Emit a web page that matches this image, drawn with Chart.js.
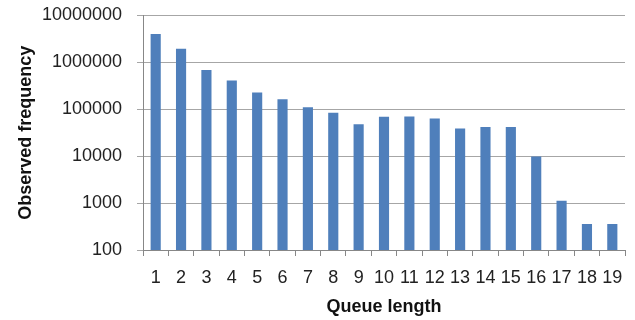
<!DOCTYPE html>
<html>
<head>
<meta charset="utf-8">
<script src="https://cdn.jsdelivr.net/npm/chart.js"></script>
<style>
  html, body { margin: 0; padding: 0; background: #fff; }
  #wrap { width: 635px; height: 320px; }
</style>
</head>
<body>
<div id="wrap"><canvas id="chart" width="635" height="320"></canvas></div>
<script>
// Queue length categories and observed frequency (log scale)
const queueLengths = ['1', '2', '3', '4', '5', '6', '7', '8', '9', '10',
                      '11', '12', '13', '14', '15', '16', '17', '18', '19'];
const frequencies = [4050000, 1960000, 690000, 410000, 227000, 164000, 110000, 84600, 48000, 69500,
                     70500, 64000, 39000, 41700, 41700, 9900, 1120, 360, 360];
const yTicks = [100, 1000, 10000, 100000, 1000000, 10000000];

const axisGrey = '#878787';
const fontFamily = '"Liberation Sans", Arial, sans-serif';

const ctx = document.getElementById('chart').getContext('2d');
new Chart(ctx, {
    type: 'bar',
    data: {
        labels: queueLengths,
        datasets: [{
            data: frequencies,
            backgroundColor: '#4F7FBB',
            borderWidth: 0,
            barPercentage: 0.4,
            categoryPercentage: 1.0
        }]
    },
    options: {
        responsive: false,
        animation: false,
        layout: { padding: { left: 0, right: 10, top: 15.5, bottom: 0 } },
        plugins: {
            legend: { display: false },
            tooltip: { enabled: false }
        },
        scales: {
            x: {
                offset: true,
                grid: {
                    offset: true,
                    drawOnChartArea: false,
                    drawTicks: true,
                    tickLength: 6,
                    color: axisGrey
                },
                border: { color: axisGrey },
                ticks: {
                    color: '#222',
                    font: { family: fontFamily, size: 18 },
                    padding: 11,
                    maxRotation: 0,
                    autoSkip: false
                },
                title: {
                    display: true,
                    text: 'Queue length',
                    color: '#111',
                    font: { family: fontFamily, size: 18, weight: 'bold' },
                    padding: { top: 0, bottom: 2 }
                },
                afterFit: scale => { scale.height = 70; }
            },
            y: {
                type: 'logarithmic',
                min: 100,
                max: 10000000,
                grid: {
                    color: '#A6A6A6',
                    tickLength: 6,
                    drawTicks: true
                },
                border: { color: axisGrey },
                ticks: {
                    color: '#222',
                    font: { family: fontFamily, size: 18 },
                    padding: 15,
                    callback: v => String(v)
                },
                afterBuildTicks: scale => {
                    scale.ticks = yTicks.map(v => ({ value: v }));
                },
                title: {
                    display: true,
                    text: 'Observed frequency',
                    color: '#111',
                    font: { family: fontFamily, size: 18, weight: 'bold' },
                    padding: { top: 15, bottom: 0 }
                },
                afterFit: scale => {
                    scale.width = 143;
                    scale.paddingTop = 0;
                    scale.paddingBottom = 0;
                }
            }
        }
    }
});
</script>
</body>
</html>
